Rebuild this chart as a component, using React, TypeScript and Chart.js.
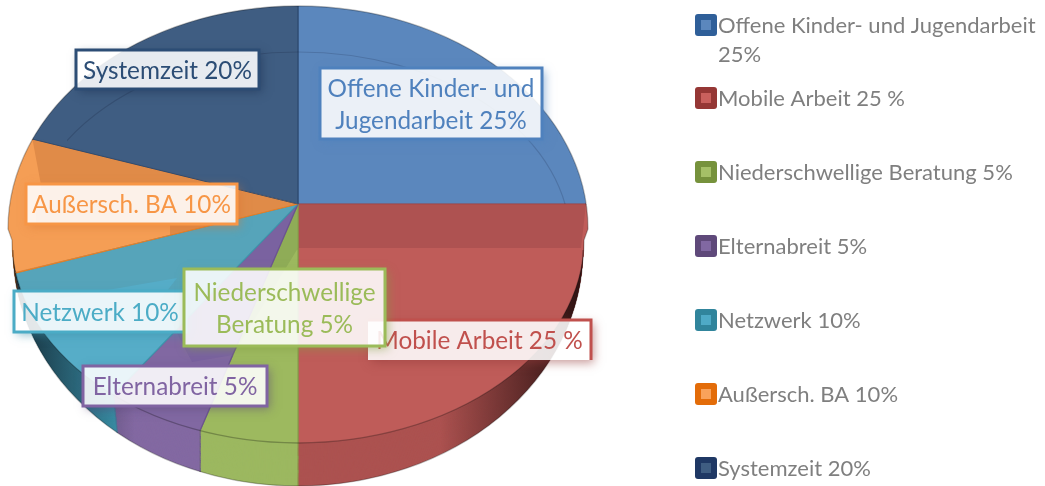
import React, { useEffect, useRef } from "react";
import { Chart, registerables } from "chart.js";

Chart.register(...registerables);

const categories = [
  "Offene Kinder- und Jugendarbeit 25%",
  "Mobile Arbeit 25 %",
  "Niederschwellige Beratung 5%",
  "Elternabreit 5%",
  "Netzwerk 10%",
  "Außersch. BA 10%",
  "Systemzeit 20%",
];
const values = [25, 25, 5, 5, 10, 10, 20];
const legendLines = [
  ["Offene Kinder- und Jugendarbeit", "25%"],
  ["Mobile Arbeit 25 %"],
  ["Niederschwellige Beratung 5%"],
  ["Elternabreit 5%"],
  ["Netzwerk 10%"],
  ["Außersch. BA 10%"],
  ["Systemzeit 20%"],
];
const legendY = [25, 98, 172, 246, 320, 394, 468];
const dataLabelLines = [
  ["Offene Kinder- und", "Jugendarbeit 25%"],
  ["Mobile Arbeit 25 %"],
  ["Niederschwellige", "Beratung 5%"],
  ["Elternabreit 5%"],
  ["Netzwerk 10%"],
  ["Außersch. BA 10%"],
  ["Systemzeit 20%"],
];
// outer box of each data label: left, top, right, bottom
const labelBoxes = [
  [320, 68, 542, 139],
  [368, 320, 591, 360],
  [184, 269, 385, 346],
  [83, 366, 267, 406],
  [14, 291, 186, 332],
  [26, 184, 237, 224],
  [76, 50, 259, 89],
];
const labelDrawOrder = [0, 6, 5, 4, 1, 3, 2];

const litColors = ["#5B87BD", "#BF5C59", "#9DB95F", "#8168A2", "#56ADC8", "#F59E55", "#3F5D82"];
const shadeColors = ["#5B87BD", "#AE5251", "#8FAC57", "#7A62A0", "#56A4BA", "#E08B48", "#3F5D82"];
const wallColors = ["#4A76AB", "#AC5250", "#9CB860", "#8369A2", "#3F9CB5", "#E08B48", "#2F4B70"];
const edgeColors = ["#4A76AB", "#A84644", "#87A34D", "#6C5490", "#3F95AC", "#E87F25", "#2F4B70"];
const textColors = ["#4F81BD", "#C0504D", "#9BBB59", "#8064A2", "#4BACC6", "#F79646", "#2C4D75"];
const shadowColors = [
  "rgba(79,129,189,0.55)",
  "rgba(150,60,58,0.5)",
  "rgba(130,160,70,0.55)",
  "rgba(90,70,120,0.5)",
  "rgba(60,140,165,0.55)",
  "rgba(220,120,50,0.5)",
  "rgba(30,50,80,0.55)",
];
const swatchEdge = ["#2F5F99", "#953735", "#76923C", "#5F497A", "#31859C", "#E36C09", "#1F3864"];
const swatchFill = ["#5B87BD", "#C9605D", "#A5C067", "#8168A2", "#4FAAC6", "#F9A25A", "#3F5D82"];

const CX = 298;
const CY = 204;
const RX = 290;
const BACK_CY = 229;
const BACK_RY = 223;
const SEAM_CY = 240;
const SEAM_RX = 286;
const SEAM_RY = 203;
const WALL_CY = 250;
const WALL_RX = 285;
const WALL_RY = 236;
const ANGLE_RY = 218;
const OVER = 1.35;
const DEPTH = 41;
const LABEL_FONT = "24.3px Lato";
const LEGEND_FONT = "22px Lato";

function topShape(ctx: CanvasRenderingContext2D) {
  ctx.beginPath();
  ctx.ellipse(CX, BACK_CY, RX, BACK_RY, 0, Math.PI, Math.PI * 2);
  ctx.lineTo(CX + SEAM_RX, SEAM_CY);
  ctx.ellipse(CX, SEAM_CY, SEAM_RX, SEAM_RY, 0, 0, Math.PI);
  ctx.closePath();
}

function drawPie(chart: any, colors: string[], dy: number) {
  const ctx = chart.ctx as CanvasRenderingContext2D;
  const meta = chart.getDatasetMeta(0);
  meta.data.forEach((arc: any, i: number) => {
    arc.options.backgroundColor = colors[i];
    arc.options.borderColor = edgeColors[i];
  });
  const r = meta.data[0].outerRadius;
  const x0 = meta.data[0].x;
  const y0 = meta.data[0].y;
  ctx.save();
  ctx.translate(x0, y0 + dy);
  ctx.scale((RX * OVER) / r, (ANGLE_RY * OVER) / r);
  ctx.translate(-x0, -y0);
  meta.controller.draw();
  ctx.restore();
}

function polygon(ctx: CanvasRenderingContext2D, pts: number[][]) {
  ctx.beginPath();
  pts.forEach((p, i) => (i ? ctx.lineTo(p[0], p[1]) : ctx.moveTo(p[0], p[1])));
  ctx.closePath();
}

const shadeZone: number[][] = [
  [298, 204],
  [586, 204],
  [581, 248],
  [298, 248],
  [233, 355],
  [192, 362],
  [160, 300],
  [177, 278],
  [50, 300],
  [15, 288],
  [15, 272],
  [170, 235],
  [170, 225],
  [36, 225],
  [36, 204],
];
const backShadeZone: number[][] = [
  [32, 137],
  [41, 185],
  [40, 204],
  [298, 204],
];

const pie3d = {
  id: "pie3d",
  beforeDatasetsDraw(chart: any) {
    const ctx = chart.ctx as CanvasRenderingContext2D;
    // side wall, extruded bottom-up
    for (let k = DEPTH + 5; k >= 0; k--) {
      const t = k / (DEPTH + 5);
      ctx.save();
      ctx.beginPath();
      ctx.ellipse(
        CX,
        SEAM_CY + (WALL_CY - SEAM_CY) * t,
        SEAM_RX + (WALL_RX - SEAM_RX) * t,
        SEAM_RY + (WALL_RY - SEAM_RY) * t,
        0,
        0,
        Math.PI
      );
      ctx.closePath();
      ctx.clip();
      drawPie(chart, wallColors, DEPTH * t);
      ctx.restore();
    }
    // darkening toward the ends of the wall
    ctx.save();
    ctx.beginPath();
    ctx.ellipse(CX, WALL_CY, WALL_RX, WALL_RY, 0, 0, Math.PI);
    ctx.closePath();
    ctx.clip();
    const g = ctx.createLinearGradient(CX - RX, 0, CX + RX, 0);
    const stop = (x: number) => (x - (CX - RX)) / (2 * RX);
    g.addColorStop(stop(20), "rgba(15,25,35,0.8)");
    g.addColorStop(stop(135), "rgba(15,25,35,0)");
    g.addColorStop(stop(440), "rgba(30,10,10,0)");
    g.addColorStop(stop(575), "rgba(30,10,10,0.85)");
    ctx.fillStyle = g;
    ctx.fillRect(0, SEAM_CY, 1045, 260);
    ctx.restore();

    // top face
    ctx.save();
    topShape(ctx);
    ctx.clip();
    drawPie(chart, litColors, 0);
    ctx.save();
    polygon(ctx, shadeZone);
    ctx.clip();
    drawPie(chart, shadeColors, 0);
    ctx.restore();
    ctx.save();
    polygon(ctx, backShadeZone);
    ctx.clip();
    drawPie(chart, shadeColors, 0);
    ctx.restore();
    ctx.restore();

    // rims, tinted by what lies underneath
    ctx.save();
    ctx.globalCompositeOperation = "multiply";
    ctx.strokeStyle = "#bcbcbc";
    ctx.lineWidth = 1.3;
    topShape(ctx);
    ctx.stroke();
    ctx.beginPath();
    ctx.ellipse(CX, WALL_CY, WALL_RX, WALL_RY, 0, 0, Math.PI);
    ctx.stroke();
    ctx.beginPath();
    ctx.rect(67, 0, 520, 204);
    ctx.clip();
    ctx.strokeStyle = "#d6d9df";
    ctx.lineWidth = 1.2;
    ctx.beginPath();
    ctx.ellipse(CX, 240, 272, 188, 0, Math.PI, Math.PI * 2);
    ctx.stroke();
    ctx.restore();
    return false;
  },
  afterDraw(chart: any) {
    const ctx = chart.ctx as CanvasRenderingContext2D;
    ctx.textBaseline = "middle";
    // data labels
    labelDrawOrder.forEach((i) => {
      const [l, t, r, b] = labelBoxes[i];
      const w = r - l;
      const h = b - t;
      ctx.save();
      ctx.beginPath();
      ctx.rect(0, 0, 1045, 486);
      ctx.rect(l, t, w, h);
      ctx.clip("evenodd");
      ctx.shadowColor = shadowColors[i];
      ctx.shadowBlur = 9;
      ctx.shadowOffsetX = 3;
      ctx.shadowOffsetY = 3;
      ctx.fillStyle = "#000";
      ctx.fillRect(l, t, w, h);
      ctx.restore();

      ctx.fillStyle = "rgba(255,255,255,0.88)";
      ctx.fillRect(l, t, w, h);
      ctx.strokeStyle = textColors[i];
      ctx.lineWidth = 3;
      if (i === 1) {
        ctx.beginPath();
        ctx.moveTo(l, t);
        ctx.lineTo(r, t);
        ctx.lineTo(r, b);
        ctx.stroke();
      } else {
        ctx.strokeRect(l, t, w, h);
      }
      ctx.fillStyle = textColors[i];
      ctx.font = LABEL_FONT;
      ctx.textAlign = "center";
      const lines = dataLabelLines[i];
      lines.forEach((line, n) => {
        const y = (t + b) / 2 + 1.5 + (n - (lines.length - 1) / 2) * 32;
        ctx.fillText(line, (l + r) / 2, y);
      });
    });
    // legend
    ctx.textAlign = "left";
    ctx.font = LEGEND_FONT;
    legendLines.forEach((lines, i) => {
      const y = legendY[i];
      ctx.fillStyle = swatchEdge[i];
      ctx.beginPath();
      ctx.roundRect(695, y - 11, 22, 22, 3);
      ctx.fill();
      ctx.fillStyle = swatchFill[i];
      ctx.fillRect(701, y - 5, 10, 10);
      ctx.fillStyle = "#7F7F7F";
      lines.forEach((line, n) => ctx.fillText(line, 718, y + 1 + n * 29));
    });
  },
};

export default function App() {
  const ref = useRef<HTMLCanvasElement>(null);
  useEffect(() => {
    const chart = new Chart(ref.current as HTMLCanvasElement, {
      type: "pie",
      data: {
        labels: categories,
        datasets: [
          {
            data: values,
            backgroundColor: litColors,
            borderColor: edgeColors,
            borderWidth: 0.7,
          },
        ],
      },
      options: {
        responsive: false,
        animation: false,
        layout: { padding: { right: 449, bottom: 78 } },
        plugins: { legend: { display: false }, tooltip: { enabled: false } },
      },
      plugins: [pie3d],
    } as any);
    return () => chart.destroy();
  }, []);
  return (
    <div style={{ position: "absolute", left: 0, top: 0, width: 1045, height: 486, overflow: "hidden" }}>
      <canvas ref={ref} width={1045} height={486} style={{ display: "block" }} />
    </div>
  );
}
